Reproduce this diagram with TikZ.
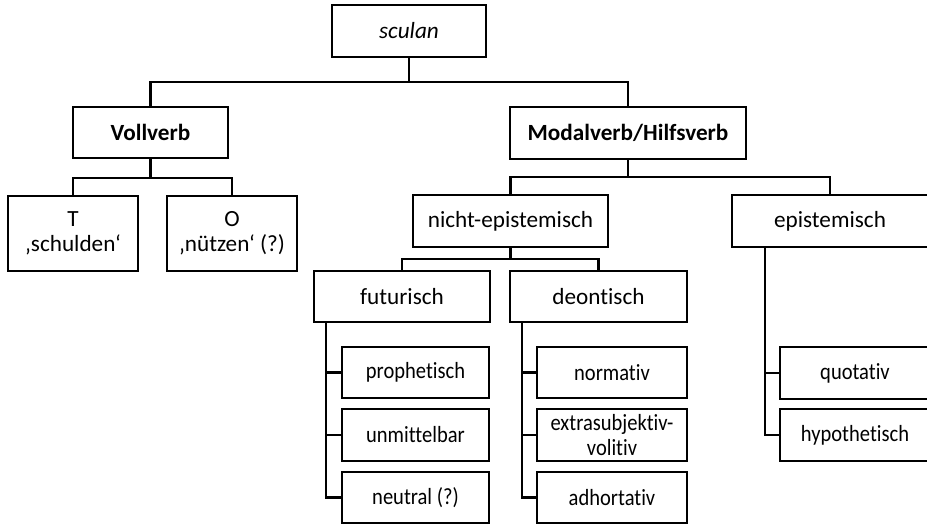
\documentclass[tikz,border=0pt]{standalone}
\usepackage{fontspec}
\setmainfont{Carlito}[Ligatures=NoCommon]
\newfontfamily\leaffont{Carlito}[FakeStretch=0.885,Ligatures=NoCommon]
\begin{document}
\begin{tikzpicture}[x=1pt,y=-1pt,
  box/.style={draw=black,line width=1.6pt,fill=white,inner sep=0pt,align=center,
    font=\fontsize{23.2}{25}\selectfont},
  leaf/.style={box,font=\leaffont\fontsize{23.2}{25}\selectfont},
  conn/.style={line width=2.9pt,line cap=rect}]
\useasboundingbox (0,0) rectangle (927,524);
\clip (0,0) rectangle (927,524);
% nodes
\node[box,minimum width=154,minimum height=52] (sculan) at (409,31) {\itshape sculan};
\node[box,minimum width=155,minimum height=51] (voll) at (150.5,132.5) {\bfseries Vollverb};
\node[box,minimum width=236,minimum height=52] (modal) at (628,133) {\bfseries Modalverb/Hilfsverb};
\node[box,minimum width=130,minimum height=75] (T) at (73,233.5) {T\\‚schulden‘};
\node[box,minimum width=130,minimum height=75] (O) at (232,233.5) {O\\‚nützen‘ (?)};
\node[box,minimum width=195,minimum height=52] (nep) at (510.5,221) {nicht-epistemisch};
\node[box,minimum width=196,minimum height=52] (ep) at (830,221) {epistemisch};
\node[box,minimum width=176,minimum height=51] (fut) at (402,296.5) {futurisch};
\node[box,minimum width=177,minimum height=51] (deo) at (598.5,296.5) {deontisch};
\node[leaf,minimum width=147,minimum height=51] (pro) at (415.5,372.5) {prophetisch};
\node[leaf,minimum width=147,minimum height=52] (unm) at (415.5,435) {unmittelbar};
\node[leaf,minimum width=147,minimum height=51] (neu) at (415.5,497.5) {neutral (?)};
\node[leaf,minimum width=150,minimum height=51] (nor) at (612,372.5) {normativ};
\node[leaf,minimum width=150,minimum height=52] (ext) at (612,435) {extrasubjektiv-\\volitiv};
\node[leaf,minimum width=150,minimum height=51] (adh) at (612,497.5) {adhortativ};
\node[leaf,minimum width=150,minimum height=52] (quo) at (855,373) {quotativ};
\node[leaf,minimum width=150,minimum height=52] (hyp) at (855,435) {hypothetisch};
% junctions
\coordinate (j1) at (409,82);
\coordinate (j2) at (150.5,178);
\coordinate (j3) at (628,177);
\coordinate (j4) at (510.5,259);
\coordinate (sf) at (326,0);
\coordinate (sd) at (522,0);
\coordinate (se) at (765,0);
% connectors
\draw[conn] (sculan.south) -- (j1);
\draw[conn] (voll.north) |- (j1) -| (modal.north);
\draw[conn] (voll.south) -- (j2);
\draw[conn] (T.north) |- (j2) -| (O.north);
\draw[conn] (modal.south) -- (j3);
\draw[conn] (nep.north) |- (j3) -| (ep.north);
\draw[conn] (nep.south) -- (j4);
\draw[conn] (fut.north) |- (j4) -| (deo.north);
\draw[conn] (fut.south -| sf) |- (neu.west);
\draw[conn] (sf |- pro.west) -- (pro.west);
\draw[conn] (sf |- unm.west) -- (unm.west);
\draw[conn] (deo.south -| sd) |- (adh.west);
\draw[conn] (sd |- nor.west) -- (nor.west);
\draw[conn] (sd |- ext.west) -- (ext.west);
\draw[conn] (ep.south -| se) |- (hyp.west);
\draw[conn] (se |- quo.west) -- (quo.west);
\end{tikzpicture}
\end{document}
